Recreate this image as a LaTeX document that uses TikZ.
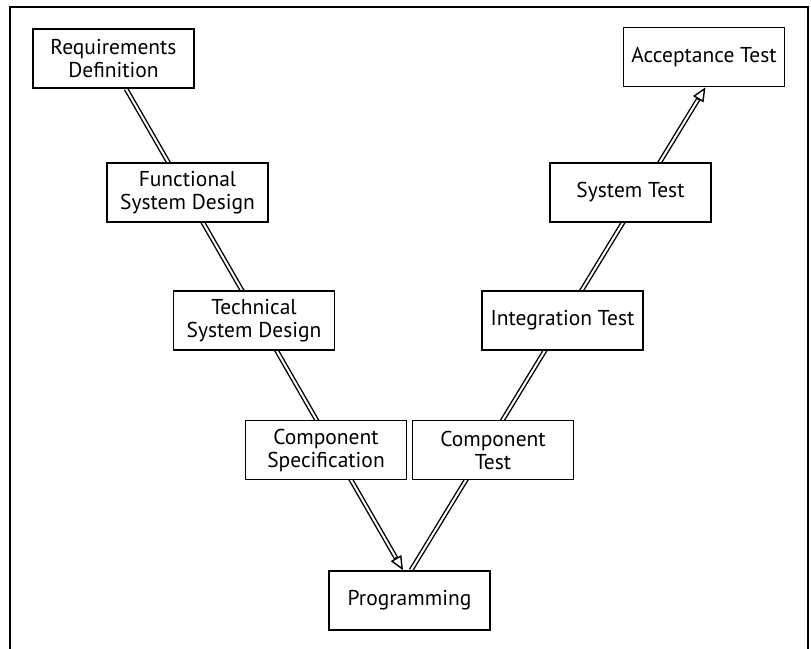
\documentclass[tikz,border=0pt]{standalone}
\usepackage{fontspec}
\setmainfont{PT Sans}
\usetikzlibrary{arrows.meta,calc}

\pgfdeclarelayer{bg}
\pgfsetlayers{bg,main}

\tikzset{
  phase/.style={draw=black, line width=1.6pt, fill=white,
    minimum width=161pt, minimum height=59pt, inner sep=0pt,
    align=center, font=\fontsize{21.5}{23}\selectfont},
  shaft/.style={draw=black, line width=1.4pt, double=white, double distance=2pt},
  tiphead/.style={draw=black, line width=1.4pt,
    -{Triangle[open, length=14pt, width=12pt, line width=1.4pt]}},
}

\begin{document}
\begin{tikzpicture}[x=1pt, y=-1pt]
  \useasboundingbox (0,0) rectangle (811,648);
  \clip (0,0) rectangle (811,648);

  % outer frame
  \draw[line width=1.6pt] (10,660) -- (10,7) -- (808,7) -- (808,660);

  % specification and test phases
  \node[phase] (req) at (113.5,58.5) {Requirements\\Definition};
  \node[phase] (fun) at (187.5,192.5) {Functional\\System Design};
  \node[phase] (tec) at (254,320.5) {Technical\\System Design};
  \node[phase] (cs)  at (326,450) {Component\\Specification};
  \node[phase] (prg) at (409.5,600.5) {Programming};
  \node[phase] (ct)  at (493,450) {Component\\Test};
  \node[phase] (int) at (562.5,320.5) {Integration Test};
  \node[phase] (sys) at (630.5,192.5) {System Test};
  \node[phase] (acc) at (704,57) {Acceptance Test};

  % ends of the two legs of the V
  \coordinate (lstart) at ($(req.south)+(12.5,0)$);
  \coordinate (ltip)   at ($(prg.north)+(-6.5,0)$);
  \coordinate (rstart) at ($(prg.north)+(1.5,0)$);
  \coordinate (rtip)   at ($(acc.south)+(1.5,0)$);

  \begin{pgfonlayer}{bg}
    % descending leg, behind the boxes
    \draw[shaft, shorten >=14pt] (lstart) -- (ltip);
    \draw[tiphead] ($(ltip)!15pt!(lstart)$) -- (ltip);
    % ascending leg
    \draw[shaft, shorten >=14pt] (rstart) -- (rtip);
    \draw[tiphead] ($(rtip)!15pt!(rstart)$) -- (rtip);
  \end{pgfonlayer}
\end{tikzpicture}
\end{document}
